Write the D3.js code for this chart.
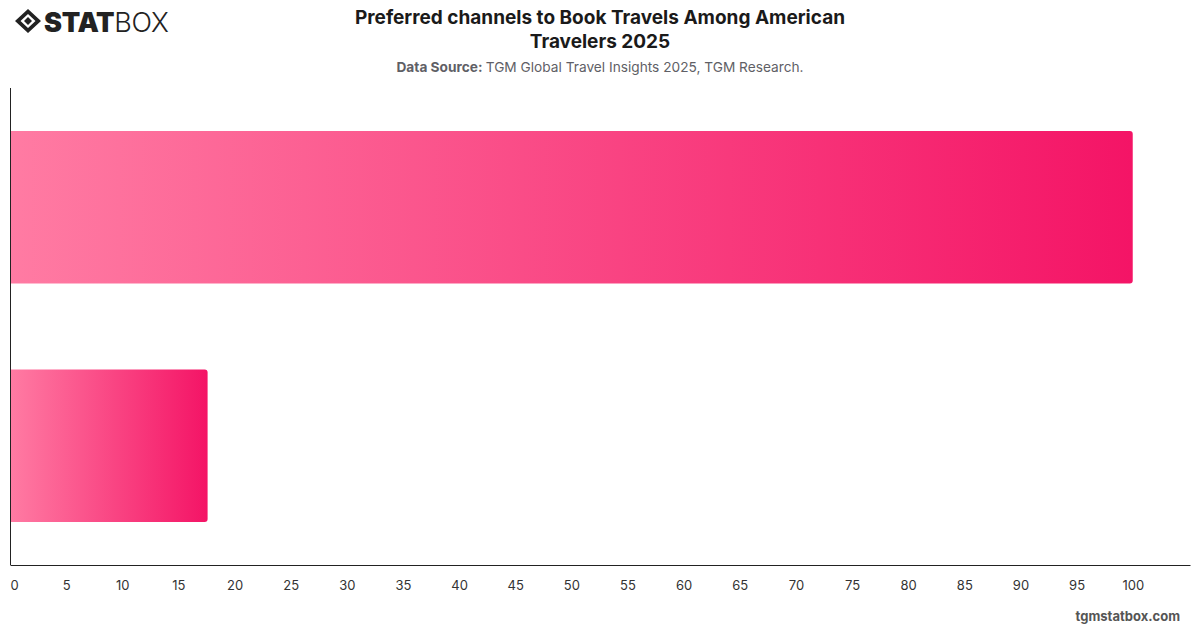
<!DOCTYPE html>
<html><head><meta charset="utf-8">
<script src="https://cdn.jsdelivr.net/npm/d3@7"></script>
<style>html,body{margin:0;padding:0;background:#fff;}svg{display:block;font-family:Inter,"Open Sans",sans-serif;}</style>
</head><body>
<svg id="c" width="1200" height="628"></svg>
<script>
const categories = ["Online", "Offline"];
const values = [100, 17.6];
const tickValues = [0,5,10,15,20,25,30,35,40,45,50,55,60,65,70,75,80,85,90,95,100];

const svg = d3.select("#c");
const x = d3.scaleLinear().domain([0, 105.1]).range([10, 1190]);
const y = d3.scaleBand().domain(categories).range([88, 565]).paddingInner(0.36).paddingOuter(0.18);

const defs = svg.append("defs");
const g = defs.append("linearGradient").attr("id","grad").attr("x1","0").attr("x2","1").attr("y1","0").attr("y2","0");
g.append("stop").attr("offset","0%").attr("stop-color","#ff7ba3");
g.append("stop").attr("offset","100%").attr("stop-color","#f41466");

const r = 3;
svg.append("g").selectAll("path").data(values).join("path")
  .attr("fill","url(#grad)")
  .attr("d",(d,i)=>{
    const x0 = x(0), x1 = x(d), y0 = y(categories[i]), h = y.bandwidth();
    return `M${x0},${y0}H${x1-r}Q${x1},${y0} ${x1},${y0+r}V${y0+h-r}Q${x1},${y0+h} ${x1-r},${y0+h}H${x0}Z`;
  });

const xa = svg.append("g").attr("transform","translate(0,565)")
  .call(d3.axisBottom(x).tickValues(tickValues).tickSize(0).tickPadding(16).tickFormat(d3.format("d")));
xa.select(".domain").attr("stroke","#222").attr("stroke-width",1);
xa.selectAll("text").attr("font-size",13).attr("fill","#333").attr("font-family","Inter,sans-serif");
xa.selectAll(".tick").filter(d=>d===0).select("text").attr("dx",4);

svg.append("line").attr("x1",10.5).attr("x2",10.5).attr("y1",88).attr("y2",565).attr("stroke","#222");

svg.append("text").attr("x",600).attr("y",24).attr("text-anchor","middle").attr("font-size",19).attr("font-weight",700).attr("fill","#1a1a1a")
  .text("Preferred channels to Book Travels Among American");
svg.append("text").attr("x",600).attr("y",48).attr("text-anchor","middle").attr("font-size",19).attr("font-weight",700).attr("fill","#1a1a1a")
  .text("Travelers 2025");
const st = svg.append("text").attr("x",600).attr("y",72).attr("text-anchor","middle").attr("font-size",13.7).attr("fill","#5f5f66");
st.append("tspan").attr("font-weight",700).text("Data Source: ");
st.append("tspan").text("TGM Global Travel Insights 2025, TGM Research.");

svg.append("text").attr("x",1180).attr("y",621).attr("text-anchor","end").attr("font-size",13).attr("font-weight",700).attr("fill","#555").text("tgmstatbox.com");

const lg = svg.append("g").attr("transform","translate(15,9)");
lg.append("path").attr("d","M13,0 L26,12 L13,24 L0,12 Z M13,5 L20.5,12 L13,19 L5.5,12 Z").attr("fill","#222").attr("fill-rule","evenodd");
lg.append("path").attr("d","M13,8 L17,12 L13,16 L9,12 Z").attr("fill","#222");
const lt = lg.append("text").attr("x",29).attr("y",23).attr("font-size",27).attr("fill","#222").attr("font-family","Inter,sans-serif").attr("letter-spacing",-0.3);
lt.append("tspan").attr("font-weight",900).text("STAT");
lt.append("tspan").attr("font-weight",300).text("BOX");
</script>
</body></html>
